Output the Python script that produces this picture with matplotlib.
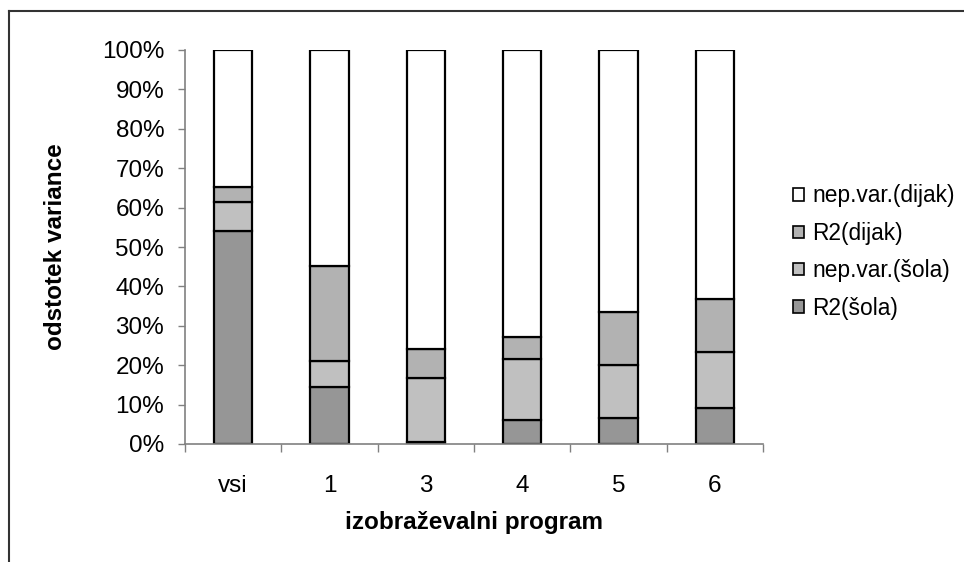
import matplotlib.pyplot as plt
import numpy as np
from matplotlib.lines import Line2D
from matplotlib.patches import Patch

plt.rcParams['font.family'] = ['Liberation Sans', 'DejaVu Sans']

programs = ['vsi', '1', '3', '4', '5', '6']
r2_sola = [54.1, 14.5, 0.5, 6.1, 6.6, 9.1]
nepvar_sola = [7.3, 6.6, 16.3, 15.4, 13.4, 14.3]
r2_dijak = [3.9, 24.1, 7.2, 5.7, 13.5, 13.4]
nepvar_dijak = [100 - a - b - c for a, b, c in zip(r2_sola, nepvar_sola, r2_dijak)]

series = [
    ('R2(šola)', r2_sola, '#969696'),
    ('nep.var.(šola)', nepvar_sola, '#c0c0c0'),
    ('R2(dijak)', r2_dijak, '#b2b2b2'),
    ('nep.var.(dijak)', nepvar_dijak, '#ffffff'),
]

fs = 17.5

fig = plt.figure(figsize=(9.64, 5.62), dpi=100)
ax = fig.add_axes([185 / 964, 1 - 444 / 562, 578 / 964, 394 / 562])

x = np.arange(len(programs))
bottom = np.zeros(len(programs))
for name, vals, col in series:
    ax.bar(x, vals, 0.4, bottom=bottom, color=col, edgecolor='black', linewidth=1.6, label=name)
    bottom += np.array(vals)

ax.set_xlim(-0.5, len(programs) - 0.5)
ax.set_ylim(0, 100)
ax.set_yticks(np.arange(0, 101, 10))
ax.set_yticklabels([f'{v}%' for v in range(0, 101, 10)])

ax.set_xticks(np.arange(-0.5, len(programs)), minor=False)
ax.set_xticklabels([])
ax.set_xticks(x, minor=True)
ax.set_xticklabels(programs, minor=True)
ax.tick_params(axis='x', which='minor', length=0, pad=22, labelsize=fs)
ax.tick_params(axis='x', which='major', length=6, width=1, color='#808080', direction='out')
ax.tick_params(axis='y', length=5, width=1, color='#808080', pad=10, labelsize=fs)

for s in ['top', 'right']:
    ax.spines[s].set_visible(False)
for s in ['left', 'bottom']:
    ax.spines[s].set_color('#808080')
    ax.spines[s].set_linewidth(1.2)

ax.set_xlabel('izobraževalni program', fontsize=fs, fontweight='bold', va='center')
ax.xaxis.set_label_coords(0.5, (444 - 523) / 394)
ax.set_ylabel('odstotek variance', fontsize=fs, fontweight='bold', va='center')
ax.yaxis.set_label_coords((56 - 185) / 578, 0.5)

handles = [Patch(facecolor=col, edgecolor='black', linewidth=1.2) for _, _, col in series][::-1]
labels = [name for name, _, _ in series][::-1]
fig.legend(handles, labels, loc='center left', bbox_to_anchor=(784 / 964, 1 - 252 / 562),
           frameon=False, fontsize=16.4, handlelength=0.46, handleheight=0.46,
           handletextpad=0.38, labelspacing=0.63, borderaxespad=0)

# outer chart frame (top and left edges only)
fig.add_artist(Line2D([9 / 964, 9 / 964], [0, 1 - 11 / 562], transform=fig.transFigure,
                      color='#333333', linewidth=1.5))
fig.add_artist(Line2D([9 / 964, 1], [1 - 11 / 562, 1 - 11 / 562], transform=fig.transFigure,
                      color='#333333', linewidth=1.5))

fig.savefig('out.png', dpi=100)
